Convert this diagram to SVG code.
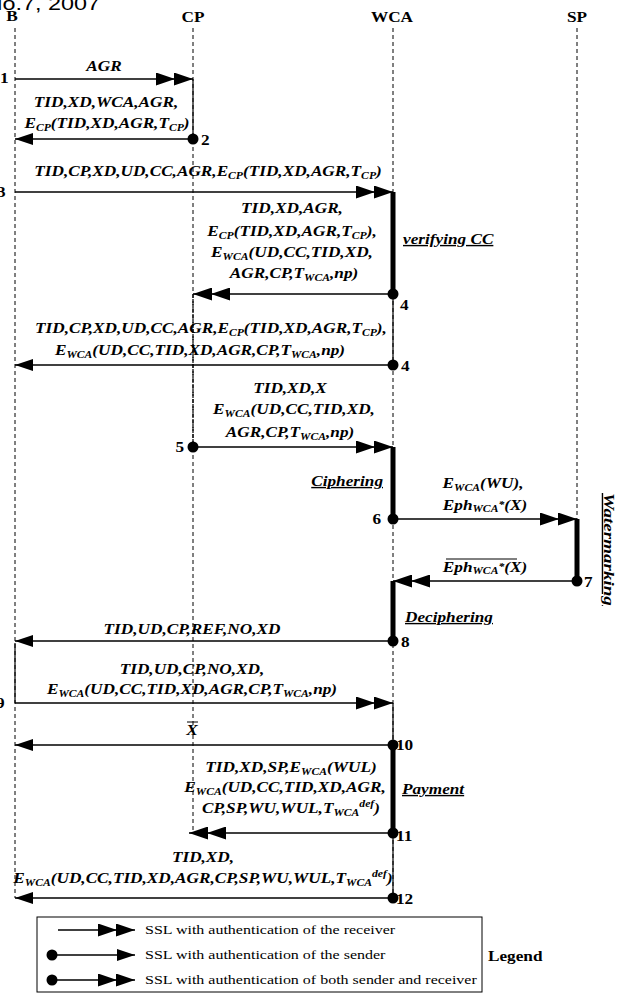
<svg xmlns="http://www.w3.org/2000/svg" width="620" height="996" viewBox="0 0 620 996">
<style>
.hd{font-family:"Liberation Serif","Times New Roman",serif;font-weight:bold;font-size:14px;text-anchor:middle}
.m{font-family:"Liberation Serif","Times New Roman",serif;font-weight:bold;font-style:italic;font-size:14px;text-anchor:middle}
.st{text-anchor:start}
.en{text-anchor:end}
.u{text-decoration:underline}
.s{font-size:9.5px}
.n{font-family:"Liberation Serif","Times New Roman",serif;font-weight:bold;font-size:14px}
.lg{font-family:"Liberation Serif","Times New Roman",serif;font-size:13px}
.ll{stroke:#000;stroke-width:1;stroke-dasharray:4 3;fill:none}
.sl{stroke:#000;stroke-width:1.2;fill:none}
.dl{stroke:#000;stroke-width:1.2;stroke-dasharray:4 1;fill:none}
.bar{stroke:#000;stroke-width:5;fill:none}
.msg{stroke:#000;stroke-width:1.3;fill:none}
.ol{stroke:#000;stroke-width:1}
</style>
<defs>
<marker id="a1" viewBox="0 0 18 12" refX="18" refY="6" markerWidth="18" markerHeight="12" markerUnits="userSpaceOnUse" orient="auto"><path d="M0,0L18,6L0,12Z"/></marker>
<marker id="a2" viewBox="0 0 37 13" refX="37" refY="6.5" markerWidth="37" markerHeight="13" markerUnits="userSpaceOnUse" orient="auto"><path d="M0,0L19,6.5L0,13ZM18,0L37,6.5L18,13Z"/></marker>
<marker id="dot" viewBox="0 0 12 12" refX="6" refY="6" markerWidth="12" markerHeight="12" markerUnits="userSpaceOnUse"><circle cx="6" cy="6" r="5.5"/></marker>
</defs>
<rect width="620" height="996" fill="#fff"/>
<text x="0" y="0" transform="translate(100,10) scale(1.23,1)" font-family="Liberation Sans, Arial, sans-serif" font-size="19" text-anchor="end">No.7, 2007</text>

<g id="B">
<text class="hd" transform="translate(12,21) scale(1.23,1)">B</text>
<path class="ll" d="M15,28V898"/>
<path class="sl" d="M15,643V703"/>
</g>
<g id="CP">
<text class="hd" transform="translate(193,22) scale(1.23,1)">CP</text>
<path class="ll" d="M193,28V830"/>
<path class="sl" d="M193,79V139"/>
<path class="dl" d="M193,294V447"/>
</g>
<g id="WCA">
<text class="hd" transform="translate(392,22) scale(1.23,1)">WCA</text>
<path class="ll" d="M393,28V898"/>
<path class="sl" d="M393,294V365M393,703V745M393,833V898"/>
<path class="bar" d="M393,192V294M393,447V519M393,581V641M393,745V833"/>
<text class="m st u" transform="translate(403,244) scale(1.23,1)">verifying CC</text>
<text class="m en u" transform="translate(383,486) scale(1.23,1)">Ciphering</text>
<text class="m st u" transform="translate(405,622) scale(1.23,1)">Deciphering</text>
<text class="m st u" transform="translate(402,794) scale(1.23,1)">Payment</text>
</g>
<g id="SP">
<text class="hd" transform="translate(577,22) scale(1.23,1)">SP</text>
<path class="ll" d="M577,28V519"/>
<path class="bar" d="M577,519V581"/>
<text class="m st u" transform="translate(604,493) rotate(90) scale(1.36,1)">Watermarking</text>
</g>

<g id="connectors">
<path class="msg" d="M15,79H193" marker-end="url(#a2)"/>
<path class="msg" d="M193,139H15" marker-start="url(#dot)" marker-end="url(#a1)"/>
<path class="msg" d="M15,192H393" marker-end="url(#a2)"/>
<path class="msg" d="M393,294H193" marker-start="url(#dot)" marker-end="url(#a2)"/>
<path class="msg" d="M393,365H15" marker-start="url(#dot)" marker-end="url(#a1)"/>
<path class="msg" d="M193,447H393" marker-start="url(#dot)" marker-end="url(#a2)"/>
<path class="msg" d="M393,519H577" marker-start="url(#dot)" marker-end="url(#a2)"/>
<path class="msg" d="M577,581H393" marker-start="url(#dot)" marker-end="url(#a2)"/>
<path class="msg" d="M393,641H15" marker-start="url(#dot)" marker-end="url(#a1)"/>
<path class="msg" d="M15,703H393" marker-end="url(#a2)"/>
<path class="msg" d="M393,745H15" marker-start="url(#dot)" marker-end="url(#a1)"/>
<path class="msg" d="M393,833H189" marker-start="url(#dot)" marker-end="url(#a2)"/>
<path class="msg" d="M393,898H15" marker-start="url(#dot)" marker-end="url(#a1)"/>
</g>

<g id="numbers">
<text class="n" transform="translate(0,83) scale(1.23,1)">1</text>
<text class="n" transform="translate(201,145) scale(1.23,1)">2</text>
<text class="n" transform="translate(-3,197) scale(1.23,1)">3</text>
<text class="n" transform="translate(400,310) scale(1.23,1)">4</text>
<text class="n" transform="translate(401,371) scale(1.23,1)">4</text>
<text class="n en" transform="translate(184,452) scale(1.23,1)">5</text>
<text class="n en" transform="translate(381,524) scale(1.23,1)">6</text>
<text class="n" transform="translate(584,587) scale(1.23,1)">7</text>
<text class="n" transform="translate(401,647) scale(1.23,1)">8</text>
<text class="n" transform="translate(-4,708) scale(1.23,1)">9</text>
<text class="n" transform="translate(396,750) scale(1.23,1)">10</text>
<text class="n" transform="translate(396,841) scale(1.23,1)">11</text>
<text class="n" transform="translate(396,904) scale(1.23,1)">12</text>
</g>

<g id="labels">
<text class="m" transform="translate(104,71) scale(1.23,1)">AGR</text>
<text class="m" transform="translate(106,107) scale(1.23,1)">TID,XD,WCA,AGR,</text>
<text class="m" transform="translate(107,128) scale(1.23,1)">E<tspan class="s" dy="3">CP</tspan><tspan dy="-3">(TID,XD,AGR,T</tspan><tspan class="s" dy="3">CP</tspan><tspan dy="-3">)</tspan></text>
<text class="m" transform="translate(208,176) scale(1.23,1)">TID,CP,XD,UD,CC,AGR,E<tspan class="s" dy="3">CP</tspan><tspan dy="-3">(TID,XD,AGR,T</tspan><tspan class="s" dy="3">CP</tspan><tspan dy="-3">)</tspan></text>
<text class="m" transform="translate(292,213) scale(1.23,1)">TID,XD,AGR,</text>
<text class="m" transform="translate(292,236) scale(1.23,1)">E<tspan class="s" dy="3">CP</tspan><tspan dy="-3">(TID,XD,AGR,T</tspan><tspan class="s" dy="3">CP</tspan><tspan dy="-3">),</tspan></text>
<text class="m" transform="translate(292,257) scale(1.23,1)">E<tspan class="s" dy="3">WCA</tspan><tspan dy="-3">(UD,CC,TID,XD,</tspan></text>
<text class="m" transform="translate(294,278) scale(1.23,1)">AGR,CP,T<tspan class="s" dy="3">WCA</tspan><tspan dy="-3">,np)</tspan></text>
<text class="m" transform="translate(211,333) scale(1.23,1)">TID,CP,XD,UD,CC,AGR,E<tspan class="s" dy="3">CP</tspan><tspan dy="-3">(TID,XD,AGR,T</tspan><tspan class="s" dy="3">CP</tspan><tspan dy="-3">),</tspan></text>
<text class="m" transform="translate(200,355) scale(1.23,1)">E<tspan class="s" dy="3">WCA</tspan><tspan dy="-3">(UD,CC,TID,XD,AGR,CP,T</tspan><tspan class="s" dy="3">WCA</tspan><tspan dy="-3">,np)</tspan></text>
<text class="m" transform="translate(290,393) scale(1.23,1)">TID,XD,X</text>
<text class="m" transform="translate(294,414) scale(1.23,1)">E<tspan class="s" dy="3">WCA</tspan><tspan dy="-3">(UD,CC,TID,XD,</tspan></text>
<text class="m" transform="translate(290,437) scale(1.23,1)">AGR,CP,T<tspan class="s" dy="3">WCA</tspan><tspan dy="-3">,np)</tspan></text>
<text class="m" transform="translate(483,488) scale(1.23,1)">E<tspan class="s" dy="3">WCA</tspan><tspan dy="-3">(WU),</tspan></text>
<text class="m" transform="translate(485,510) scale(1.23,1)">Eph<tspan class="s" dy="2">WCA</tspan><tspan class="s" dy="-4">*</tspan><tspan dy="2">(X)</tspan></text>
<text class="m" transform="translate(485,572) scale(1.23,1)">Eph<tspan class="s" dy="2">WCA</tspan><tspan class="s" dy="-4">*</tspan><tspan dy="2">(X)</tspan></text>
<path class="ol" d="M446,559H517"/>
<text class="m" transform="translate(192,634) scale(1.23,1)">TID,UD,CP,REF,NO,XD</text>
<text class="m" transform="translate(192,674) scale(1.23,1)">TID,UD,CP,NO,XD,</text>
<text class="m" transform="translate(192,694) scale(1.23,1)">E<tspan class="s" dy="3">WCA</tspan><tspan dy="-3">(UD,CC,TID,XD,AGR,CP,T</tspan><tspan class="s" dy="3">WCA</tspan><tspan dy="-3">,np)</tspan></text>
<text class="m" transform="translate(192,735) scale(1.23,1)">X</text>
<path class="ol" d="M187,722H198"/>
<text class="m" transform="translate(291,772) scale(1.23,1)">TID,XD,SP,E<tspan class="s" dy="3">WCA</tspan><tspan dy="-3">(WUL)</tspan></text>
<text class="m" transform="translate(285,792) scale(1.23,1)">E<tspan class="s" dy="3">WCA</tspan><tspan dy="-3">(UD,CC,TID,XD,AGR,</tspan></text>
<text class="m" transform="translate(291,813) scale(1.23,1)">CP,SP,WU,WUL,T<tspan class="s" dy="3">WCA</tspan><tspan class="s" dy="-9">def</tspan><tspan dy="6">)</tspan></text>
<text class="m" transform="translate(203,862) scale(1.23,1)">TID,XD,</text>
<text class="m" transform="translate(203,883) scale(1.23,1)">E<tspan class="s" dy="3">WCA</tspan><tspan dy="-3">(UD,CC,TID,XD,AGR,CP,SP,WU,WUL,T</tspan><tspan class="s" dy="3">WCA</tspan><tspan class="s" dy="-9">def</tspan><tspan dy="6">)</tspan></text>
</g>

<g id="legend">
<rect x="37" y="917" width="445" height="75" fill="none" stroke="#000" stroke-width="1"/>
<path class="msg" d="M58,930H135" marker-end="url(#a2)"/>
<path class="msg" d="M52,955H135" marker-start="url(#dot)" marker-end="url(#a1)"/>
<path class="msg" d="M52,980H135" marker-start="url(#dot)" marker-end="url(#a2)"/>
<text class="lg" transform="translate(145,934) scale(1.23,1)">SSL with authentication of the receiver</text>
<text class="lg" transform="translate(145,959) scale(1.23,1)">SSL with authentication of the sender</text>
<text class="lg" transform="translate(145,984) scale(1.23,1)">SSL with authentication of both sender and receiver</text>
<text class="n" transform="translate(488,961) scale(1.23,1)">Legend</text>
</g>
</svg>
